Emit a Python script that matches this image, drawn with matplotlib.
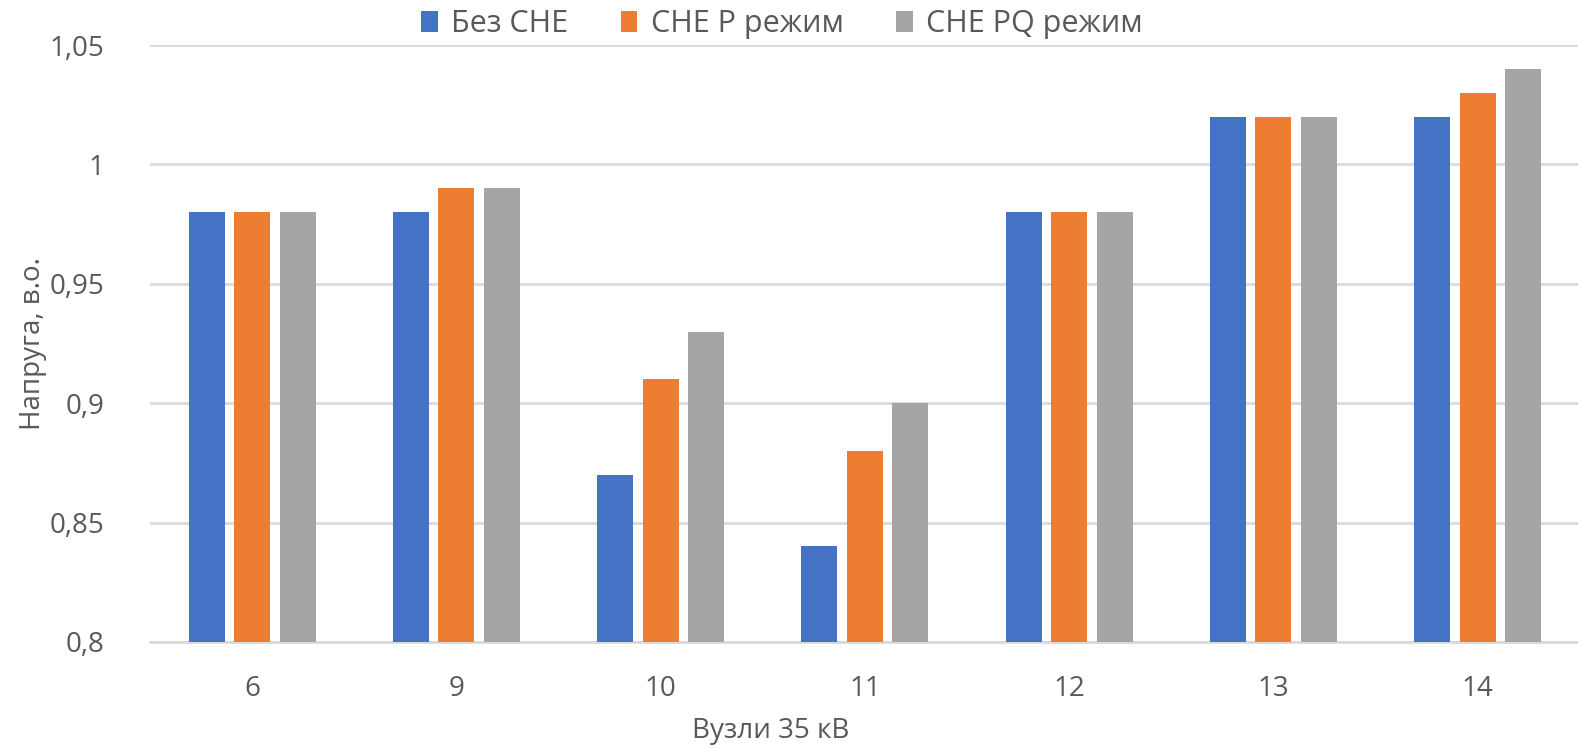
import matplotlib
matplotlib.use("Agg")
import matplotlib.pyplot as plt
from matplotlib.ticker import FuncFormatter
import numpy as np

plt.rcParams['font.family'] = ['Open Sans', 'DejaVu Sans']

# data
nodes = ["6", "9", "10", "11", "12", "13", "14"]
bez_che = [0.98, 0.98, 0.87, 0.84, 0.98, 1.02, 1.02]
che_p = [0.98, 0.99, 0.91, 0.88, 0.98, 1.02, 1.03]
che_pq = [0.98, 0.99, 0.93, 0.90, 0.98, 1.02, 1.04]
series_names = ["Без CHE", "CHE P режим", "CHE PQ режим"]
y_ticks = [0.8, 0.85, 0.9, 0.95, 1.0, 1.05]

colors = ["#4472C4", "#ED7D31", "#A5A5A5"]
text_color = "#595959"

fig = plt.figure(figsize=(15.78, 7.49), dpi=100)
ax = fig.add_axes([0.0951, 0.1429, 0.906, 0.797])

x = np.arange(len(nodes))
width = 0.176
offset = 0.223

for i, (values, name) in enumerate(zip([bez_che, che_p, che_pq], series_names)):
    ax.bar(x + (i - 1) * offset, values, width, color=colors[i], label=name, zorder=3)

ax.set_xlim(-0.5, len(nodes) - 0.5)
ax.set_ylim(0.8, 1.05)
ax.set_yticks(y_ticks)
ax.yaxis.set_major_formatter(FuncFormatter(lambda v, p: f"{v:g}".replace('.', ',')))
ax.set_xticks(x)
ax.set_xticklabels(nodes)

# excel style grid and axes
ax.grid(axis='y', color="#D9D9D9", linewidth=2, zorder=0)
for side in ['top', 'right', 'left']:
    ax.spines[side].set_visible(False)
ax.spines['bottom'].set_color("#D9D9D9")
ax.spines['bottom'].set_linewidth(2)
ax.tick_params(axis='both', length=0, labelsize=20, colors=text_color)
ax.tick_params(axis='y', pad=33)
ax.tick_params(axis='x', pad=24)

ax.set_xlabel("Вузли 35 кВ", fontsize=20, color=text_color)
ax.set_ylabel("Напруга, в.о.", fontsize=20, color=text_color)
ax.xaxis.set_label_coords(0.434, -0.125)
ax.yaxis.set_label_coords(-0.072, 0.5)

fig.legend(loc='center', bbox_to_anchor=(782 / 1578, 1 - 24 / 749), ncol=3,
           frameon=False, fontsize=22, labelcolor=text_color,
           handlelength=0.55, handleheight=0.7, handletextpad=0.45, columnspacing=1.7)

fig.savefig("out.png", dpi=100)
